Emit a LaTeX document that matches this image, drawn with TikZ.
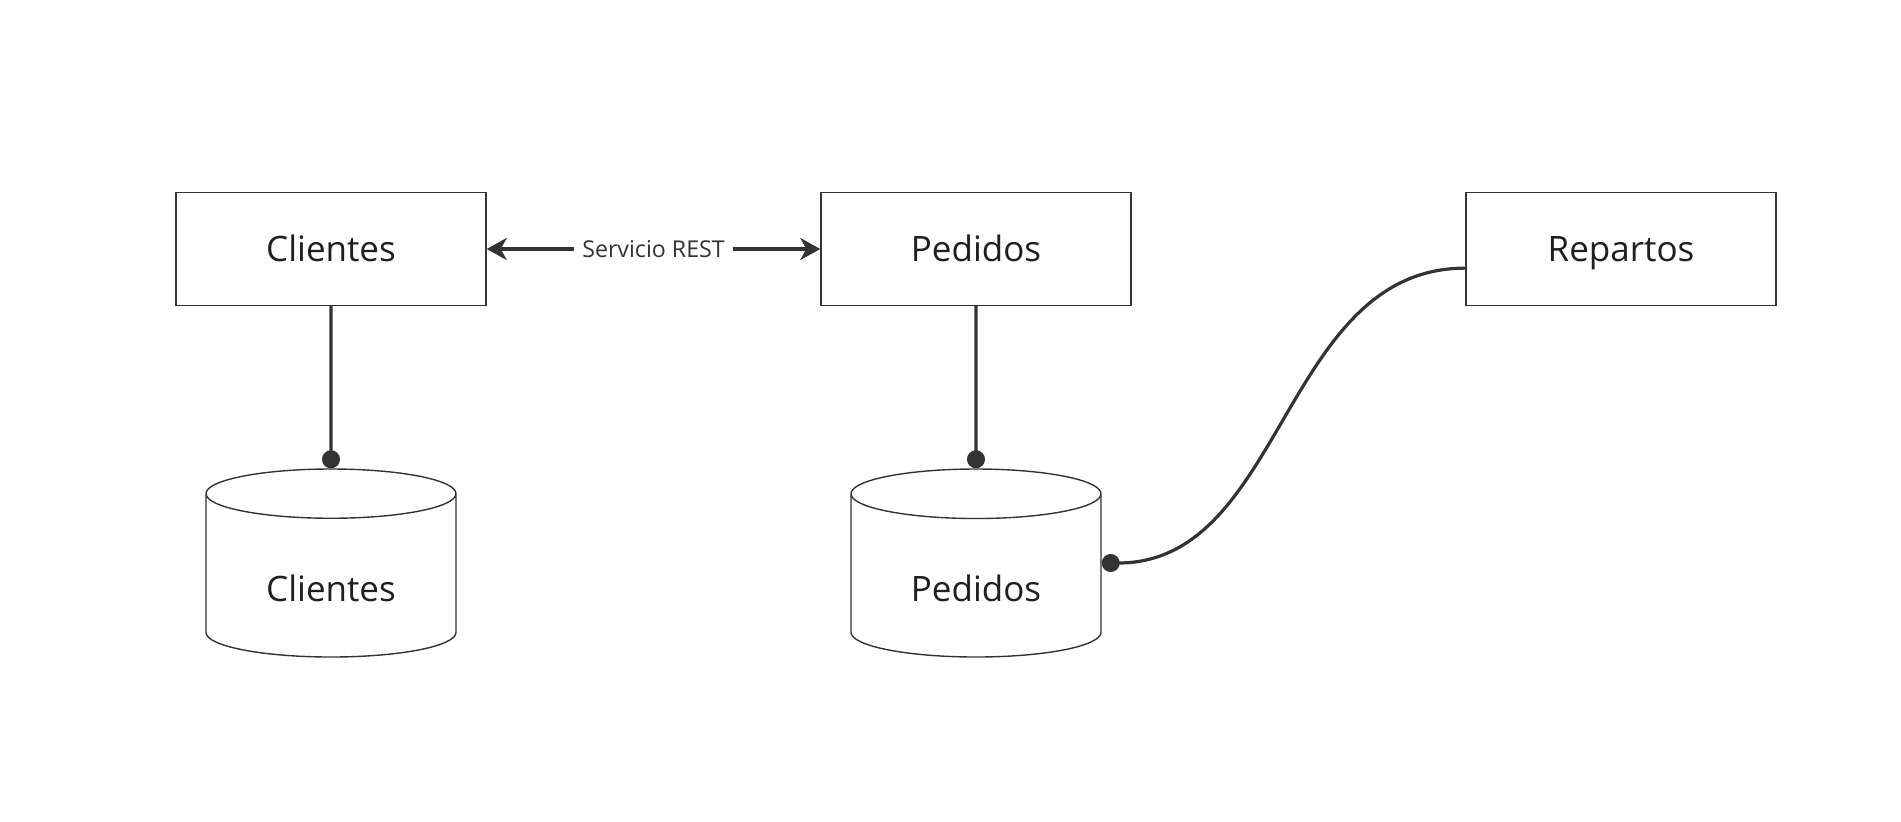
\documentclass[tikz,border=0pt]{standalone}
\usepackage{fontspec}
\setmainfont{Open Sans}
\usetikzlibrary{arrows.meta,shapes.geometric}
\definecolor{ink}{HTML}{333333}
\definecolor{word}{HTML}{1F1F1F}
\tikzset{
	service/.style={draw=ink, line width=0.7pt, fill=white, minimum width=155pt, minimum height=56.5pt, inner sep=0pt, text height=12.8pt, text depth=0pt, text=word, font=\fontsize{17.5}{21}\selectfont},
	store/.style={cylinder, shape border rotate=90, aspect=0.38, draw=ink, line width=0.7pt, minimum width=125pt, minimum height=94pt, inner sep=0pt, text height=25.8pt, text depth=0pt, text=word, font=\fontsize{17.5}{21}\selectfont, anchor=shape center},
	link/.style={draw=ink, line width=1.6pt, -{Circle[length=9pt]}},
	rest/.style={draw=ink, line width=2.2pt, {Stealth[length=10pt, width=11pt, inset=3pt]}-{Stealth[length=10pt, width=11pt, inset=3pt]}}
}
\begin{document}
\begin{tikzpicture}[x=0.5pt, y=-0.5pt]
			%%%%% START %%%%%
			\useasboundingbox (0, 0) rectangle (1901, 821);
			
			\node[service] (clientes) at (331, 249) {Clientes};
			\node[service] (pedidos) at (976, 249) {Pedidos};
			\node[service] (repartos) at (1621, 249) {Repartos};
			
			\node[store] (clientesdb) at (331, 563) {Clientes};
			\node[store] (pedidosdb) at (976, 563) {Pedidos};
			
			\draw[rest] (clientes) -- node[fill=white, inner sep=4pt, text=ink, font=\fontsize{11.6}{14}\selectfont] {Servicio REST} (pedidos);
			
			\draw[link] (clientes.south) -- (clientesdb.north);
			\draw[link] (pedidos.south) -- (pedidosdb.north);
			\draw[link] (repartos.187) to[out=180, in=0] (pedidosdb.shape center -| pedidosdb.east);
			
			%%%%% END %%%%%
\end{tikzpicture}
\end{document}
